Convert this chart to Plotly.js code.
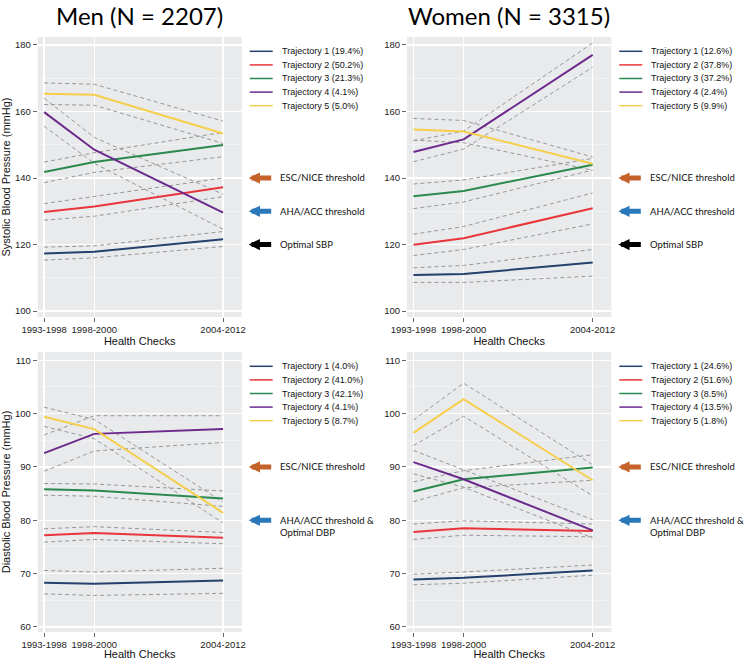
<!DOCTYPE html>
<html>
<head>
<meta charset="utf-8">
<script src="https://cdn.plot.ly/plotly-3.0.1.min.js"></script>
<style>body{margin:0;background:#fff}#chart{width:744px;height:660px}</style>
</head>
<body>
<div id="chart"></div>
<script>
/** Blood pressure trajectories, men vs women */

// Health check waves and their mid-year
const waves = ['1993-1998', '1998-2000', '2004-2012'];
const waveMid = [1995.5, 1999, 2008];

const trajNames = ['Trajectory 1', 'Trajectory 2', 'Trajectory 3', 'Trajectory 4', 'Trajectory 5'];
const trajColors = ['#24416B', '#E8363A', '#2A8A4E', '#6C2A8C', '#F5CF4A'];

// Men, systolic
const menSbpShare = ['19.4%', '50.2%', '21.3%', '4.1%', '5.0%'];
const menSbpMean = [[117.3, 117.8, 121.6], [129.8, 131.4, 137.2], [141.8, 144.8, 149.9], [159.8, 148.5, 129.6], [165.3, 165.0, 153.4]];
const menSbpLow  = [[115.3, 116.0, 119.4], [127.3, 128.5, 134.4], [138.6, 141.7, 146.4], [155.6, 144.4, 124.6], [162.1, 161.9, 150.4]];
const menSbpHigh = [[119.2, 119.6, 123.9], [132.3, 134.5, 140.0], [144.8, 147.6, 153.7], [164.0, 152.2, 135.1], [168.6, 168.2, 157.1]];

// Women, systolic
const womenSbpShare = ['12.6%', '37.8%', '37.2%', '2.4%', '9.9%'];
const womenSbpMean = [[110.8, 111.1, 114.6], [119.9, 121.9, 130.9], [134.5, 136.1, 144.0], [147.8, 151.6, 177.0], [154.6, 154.0, 144.3]];
const womenSbpLow  = [[108.6, 108.6, 110.5], [116.7, 118.5, 126.2], [130.8, 132.8, 142.4], [144.9, 148.7, 173.3], [151.4, 150.6, 142.3]];
const womenSbpHigh = [[113.0, 113.7, 118.5], [123.1, 125.4, 135.5], [138.2, 139.4, 145.9], [151.2, 154.1, 180.6], [157.9, 157.3, 146.3]];

// Men, diastolic
const menDbpShare = ['4.0%', '41.0%', '42.1%', '4.1%', '8.7%'];
const menDbpMean = [[68.3, 68.1, 68.7], [77.2, 77.6, 76.7], [85.8, 85.6, 84.1], [92.6, 96.2, 97.1], [99.4, 97.1, 81.4]];
const menDbpLow  = [[66.2, 65.9, 66.3], [75.9, 76.4, 75.6], [84.7, 84.5, 82.6], [89.2, 93.0, 94.6], [97.6, 95.3, 79.5]];
const menDbpHigh = [[70.6, 70.3, 71.0], [78.4, 78.8, 77.7], [86.9, 86.8, 85.5], [96.0, 99.6, 99.6], [101.2, 98.9, 83.4]];

// Women, diastolic
const womenDbpShare = ['24.6%', '51.6%', '8.5%', '13.5%', '1.8%'];
const womenDbpMean = [[68.9, 69.2, 70.6], [77.8, 78.5, 78.0], [85.4, 87.7, 89.9], [90.9, 87.7, 78.1], [96.4, 102.7, 87.5]];
const womenDbpLow  = [[67.9, 68.2, 69.7], [76.4, 77.2, 76.9], [83.5, 86.1, 87.5], [88.7, 86.2, 76.7], [94.0, 99.5, 84.6]];
const womenDbpHigh = [[69.9, 70.3, 71.6], [79.3, 79.9, 79.3], [87.2, 89.3, 92.3], [93.1, 89.5, 80.1], [98.8, 105.7, 90.4]];

// Thresholds (value, label, arrow colour)
const sbpCuts = [140, 130, 120];
const sbpCutLabels = ['ESC/NICE threshold', 'AHA/ACC threshold', 'Optimal SBP'];
const sbpCutColors = ['#C4622A', '#2A78BA', '#000000'];
const dbpCuts = [90, 80];
const dbpCutLabels = ['ESC/NICE threshold', 'AHA/ACC threshold &<br>Optimal DBP'];
const dbpCutColors = ['#C4622A', '#2A78BA'];

const groupTitles = ['Men (N = 2207)', 'Women (N = 3315)'];

// ---- layout helpers ----
const W = 744, H = 660;
const colPx = [[37.7, 241.7], [407, 611.3]];
const rowPx = [[37, 317], [352, 632]];
const sans = 'Liberation Sans, Arial, sans-serif';
const cal = 'Lato, Carlito, Calibri, sans-serif';

const panels = [
  {col: 0, row: 0, mean: menSbpMean, low: menSbpLow, high: menSbpHigh, share: menSbpShare, cuts: sbpCuts, cutLabels: sbpCutLabels, cutColors: sbpCutColors},
  {col: 1, row: 0, mean: womenSbpMean, low: womenSbpLow, high: womenSbpHigh, share: womenSbpShare, cuts: sbpCuts, cutLabels: sbpCutLabels, cutColors: sbpCutColors},
  {col: 0, row: 1, mean: menDbpMean, low: menDbpLow, high: menDbpHigh, share: menDbpShare, cuts: dbpCuts, cutLabels: dbpCutLabels, cutColors: dbpCutColors},
  {col: 1, row: 1, mean: womenDbpMean, low: womenDbpLow, high: womenDbpHigh, share: womenDbpShare, cuts: dbpCuts, cutLabels: dbpCutLabels, cutColors: dbpCutColors}
];

const yRanges = [[98.2, 182.4], [59.05, 111.55]];
const yDtick = [20, 10];
const yTitles = ['Systolic Blood Pressure (mmHg)', 'Diastolic Blood Pressure (mmHg)'];

var traces = [];
var layout = {
  width: W, height: H,
  margin: {l: 0, r: 0, t: 0, b: 0},
  paper_bgcolor: '#ffffff',
  plot_bgcolor: '#E9EAEC',
  showlegend: false,
  font: {family: sans, color: '#111'},
  shapes: [],
  annotations: []
};

panels.forEach(function(p, k){
  var n = k + 1;
  var xa = n === 1 ? 'x' : 'x' + n;
  var ya = n === 1 ? 'y' : 'y' + n;
  var xKey = n === 1 ? 'xaxis' : 'xaxis' + n;
  var yKey = n === 1 ? 'yaxis' : 'yaxis' + n;
  var left = colPx[p.col][0], right = colPx[p.col][1];
  var top = rowPx[p.row][0], bottom = rowPx[p.row][1];

  layout[xKey] = {
    domain: [left / W, right / W],
    anchor: ya,
    range: [1995.05, 2009.3],
    tickmode: 'array', tickvals: waveMid, ticktext: waves,
    ticks: 'outside', ticklen: 4, tickwidth: 1, tickcolor: '#666',
    tickfont: {family: sans, size: 9.5, color: '#222'},
    showgrid: true, gridcolor: '#ffffff', gridwidth: 1.5,
    zeroline: false, showline: false,
    title: {text: 'Health Checks', font: {family: sans, size: 11, color: '#111'}, standoff: 1}
  };
  layout[yKey] = {
    domain: [1 - bottom / H, 1 - top / H],
    anchor: xa,
    range: yRanges[p.row],
    dtick: yDtick[p.row],
    ticks: 'outside', ticklen: 4, tickwidth: 1, tickcolor: '#666',
    tickfont: {family: sans, size: 9.5, color: '#222'},
    showgrid: true, gridcolor: '#ffffff', gridwidth: 1.5,
    minor: {dtick: yDtick[p.row] / 2, showgrid: true, gridcolor: '#F1F2F3', gridwidth: 1, ticks: ''},
    zeroline: false, showline: false,
    title: {text: p.col === 0 ? yTitles[p.row] : '', font: {family: sans, size: 11, color: '#111'}, standoff: 3}
  };

  // confidence bands (dashed)
  for (let i = 0; i < 5; i++){
    [p.low[i], p.high[i]].forEach(function(band){
      traces.push({
        x: waveMid, y: band, xaxis: xa, yaxis: ya,
        mode: 'lines', hoverinfo: 'skip', showlegend: false,
        line: {color: '#979797', width: 1, dash: '4px,3px'}
      });
    });
  }
  // trajectories
  for (let i = 0; i < 5; i++){
    traces.push({
      x: waveMid, y: p.mean[i], xaxis: xa, yaxis: ya,
      mode: 'lines', name: trajNames[i] + ' (' + p.share[i] + ')',
      line: {color: trajColors[i], width: 2}
    });
  }

  // legend drawn by hand (tighter rows than plotly's legend)
  var legTop = top + 14.3, step = 13.6;
  for (let i = 0; i < 5; i++){
    var yy = 1 - (legTop + i * step) / H;
    layout.shapes.push({
      type: 'line', xref: 'paper', yref: 'paper',
      x0: (right + 8) / W, x1: (right + 31) / W, y0: yy, y1: yy,
      line: {color: trajColors[i], width: 1.5}
    });
    layout.annotations.push({
      xref: 'paper', yref: 'paper', x: (right + 38) / W, y: yy,
      xanchor: 'left', yanchor: 'middle', showarrow: false,
      text: trajNames[i] + ' (' + p.share[i] + ')',
      font: {family: sans, size: 9, color: '#111'}
    });
  }

  // threshold arrows
  p.cuts.forEach(function(v, j){
    layout.annotations.push({
      xref: 'paper', yref: ya, x: (right + 7) / W, y: v,
      text: '', showarrow: true, ax: 24, ay: 0,
      arrowhead: 2, arrowsize: 0.45, arrowwidth: 5, arrowcolor: p.cutColors[j], standoff: 0
    });
    var twoLine = p.cutLabels[j].indexOf('<br>') > -1;
    layout.annotations.push({
      xref: 'paper', yref: ya, x: (right + 36.5) / W, y: v,
      xanchor: 'left', yanchor: twoLine ? 'top' : 'middle', yshift: twoLine ? 7.5 : 0,
      align: 'left', showarrow: false, text: p.cutLabels[j],
      font: {family: cal, size: 9.5, color: '#111'}
    });
  });
});

// group titles
groupTitles.forEach(function(t, c){
  layout.annotations.push({
    xref: 'paper', yref: 'paper', x: (colPx[c][0] + colPx[c][1]) / 2 / W, y: 1,
    xanchor: 'center', yanchor: 'top', yshift: 1, showarrow: false,
    text: t, font: {family: cal, size: 24, color: '#000'}
  });
});

const config = {displaylogo: false, displayModeBar: false, staticPlot: true};

Plotly.newPlot('chart', traces, layout, config);
</script>
</body>
</html>
